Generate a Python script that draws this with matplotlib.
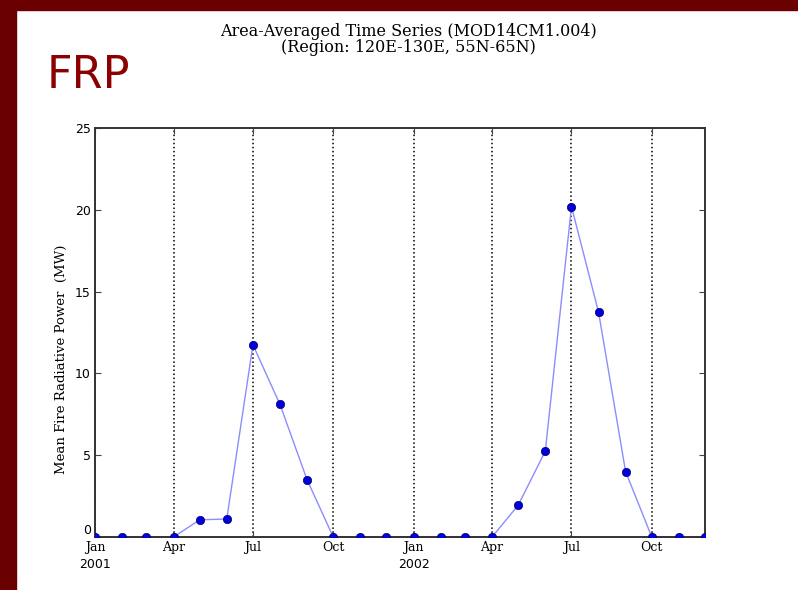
import datetime as dt
import matplotlib
matplotlib.use('Agg')
import matplotlib.pyplot as plt
import matplotlib.dates as mdates
from matplotlib.patches import Rectangle

# monthly means, Jan 2001 .. Dec 2002
months = [dt.date(2001 + i // 12, i % 12 + 1, 1) for i in range(24)]
frp_2001 = [0.0, 0.0, 0.0, 0.0, 1.05, 1.1, 11.75, 8.1, 3.5, 0.0, 0.0, 0.0]
frp_2002 = [0.0, 0.0, 0.0, 0.0, 1.95, 5.25, 20.2, 13.75, 4.0, 0.0, 0.0, 0.0]
frp = frp_2001 + frp_2002
yticks = [0, 5, 10, 15, 20, 25]

plt.rcParams['font.family'] = ['DejaVu Serif']

fig = plt.figure(figsize=(7.98, 5.90), dpi=100)
fig.patch.set_facecolor('white')

# slide border (left + top)
border = '#6b0000'
fig.add_artist(Rectangle((0, 0), 16 / 798, 1, transform=fig.transFigure, color=border, zorder=0))
fig.add_artist(Rectangle((0, 1 - 10 / 590), 1, 10 / 590, transform=fig.transFigure, color=border, zorder=0))

fig.text(47 / 798, 1 - 76 / 590, 'FRP', color='#8b0000', fontsize=32,
         family='DejaVu Sans', va='center', ha='left')

ax = fig.add_axes([95 / 798, 1 - 537 / 590, 610 / 798, 409 / 590])
ax.plot(months, frp, color='#8c8cff', linewidth=1.0, zorder=2)
ax.plot(months, frp, linestyle='none', marker='o', markersize=6,
        markerfacecolor='#0000dd', markeredgecolor='#000066', markeredgewidth=0.5, zorder=3)

ax.set_xlim(months[0], months[-1])
ax.set_ylim(0, 25)
ax.set_yticks(yticks)

ax.xaxis.set_major_locator(mdates.MonthLocator(bymonth=[1, 4, 7, 10]))
ax.xaxis.set_major_formatter(mdates.DateFormatter('%b'))
ax.xaxis.set_minor_locator(mdates.YearLocator())
ax.xaxis.set_minor_formatter(mdates.DateFormatter('%Y'))
ax.xaxis.remove_overlapping_locs = False

ax.grid(True, axis='x', which='major', color='black', linestyle=':', linewidth=1.1)
ax.tick_params(which='major', direction='in', top=True, right=True, length=4,
               width=0.8, color='#444444', labelsize=9, pad=3)
ax.tick_params(axis='x', which='minor', length=0, labelsize=9, pad=15)
for lbl in ax.get_xticklabels(minor=True):
    lbl.set_family('DejaVu Sans')
for lbl in ax.get_yticklabels():
    lbl.set_family('DejaVu Sans')
# "0" sits just above the first month label
ax.get_yticklabels()[0].set_va('bottom')

for sp in ax.spines.values():
    sp.set_color('#333333')
    sp.set_linewidth(1.4)

ax.set_ylabel('Mean Fire Radiative Power  (MW)', fontsize=9.5)
ax.yaxis.set_label_coords(-0.045, 0.435)

fig.text(408 / 798, 1 - 31 / 590, 'Area-Averaged Time Series (MOD14CM1.004)',
         ha='center', va='center', fontsize=11.5)
fig.text(408 / 798, 1 - 47 / 590, '(Region: 120E-130E, 55N-65N)',
         ha='center', va='center', fontsize=11.5)

fig.savefig('out.png', dpi=100)
